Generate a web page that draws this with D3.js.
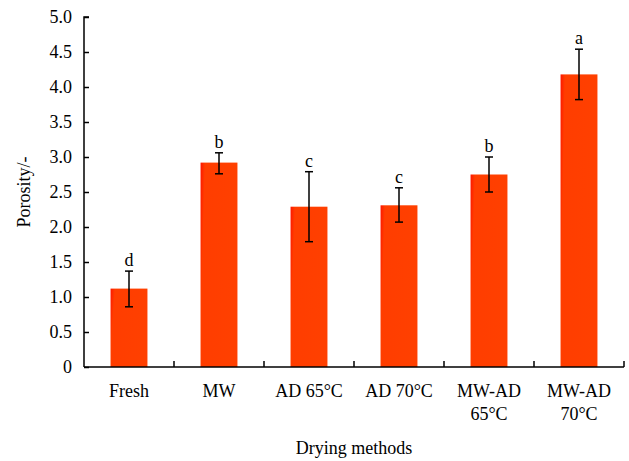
<!DOCTYPE html>
<html><head><meta charset="utf-8">
<script src="https://cdn.jsdelivr.net/npm/d3@7"></script>
<style>body{margin:0;background:#fff}svg{display:block}text{font-family:"Liberation Serif","Times New Roman",serif;fill:#000}</style>
</head><body><svg id="c" width="629" height="461"></svg>
<script>
const categories = [["Fresh"], ["MW"], ["AD 65°C"], ["AD 70°C"], ["MW-AD", "65°C"], ["MW-AD", "70°C"]];
const values = [1.12, 2.92, 2.29, 2.31, 2.75, 4.18];
const errUpper = [1.37, 3.06, 2.79, 2.56, 3.00, 4.54];
const errLower = [0.86, 2.76, 1.79, 2.07, 2.50, 3.82];
const letters = ["d", "b", "c", "c", "b", "a"];
const yTicks = [0, 0.5, 1.0, 1.5, 2.0, 2.5, 3.0, 3.5, 4.0, 4.5, 5.0];

const svg = d3.select("#c");
const m = {l: 84, r: 624, t: 17, b: 367};
const fs = 18;
const ids = categories.map((d, i) => i);
const x = d3.scaleBand().domain(ids).range([m.l, m.r]).padding(0);
const y = d3.scaleLinear().domain([0, 5]).range([m.b, m.t]);
const bw = x.bandwidth() * 0.41;

const defs = svg.append("defs");
const g = defs.append("linearGradient").attr("id", "bg").attr("x1", "0").attr("x2", "1").attr("y1", "0").attr("y2", "0.15");
g.append("stop").attr("offset", "0").attr("stop-color", "#ff1500");
g.append("stop").attr("offset", "0.12").attr("stop-color", "#ff3d00");
g.append("stop").attr("offset", "1").attr("stop-color", "#ff4000");

svg.selectAll("rect.bar").data(values).join("rect").attr("class", "bar")
  .attr("x", (d, i) => x(i) + x.bandwidth() / 2 - bw / 2)
  .attr("width", bw)
  .attr("y", d => y(d))
  .attr("height", d => y(0) - y(d))
  .attr("fill", "url(#bg)");

const eb = svg.append("g").attr("stroke", "#000").attr("stroke-width", 1.5);
ids.forEach(i => {
  const cx = x(i) + x.bandwidth() / 2;
  eb.append("line").attr("x1", cx).attr("x2", cx).attr("y1", y(errUpper[i])).attr("y2", y(errLower[i]));
  eb.append("line").attr("x1", cx - 4).attr("x2", cx + 4).attr("y1", y(errUpper[i])).attr("y2", y(errUpper[i]));
  eb.append("line").attr("x1", cx - 4).attr("x2", cx + 4).attr("y1", y(errLower[i])).attr("y2", y(errLower[i]));
  svg.append("text").attr("x", cx).attr("y", y(errUpper[i]) - 5).attr("text-anchor", "middle")
    .attr("font-size", fs).text(letters[i]);
});

// Y axis
const ya = svg.append("g").attr("transform", `translate(${m.l},0)`)
  .call(d3.axisRight(y).tickValues(yTicks).tickSize(5).tickFormat(d => d === 0 ? "0" : d3.format(".1f")(d)));
ya.select(".domain").attr("d", `M5,${m.t}H0V${m.b}`).attr("stroke", "#000").attr("stroke-width", 1.5);
ya.selectAll(".tick line").attr("stroke", "#000").attr("stroke-width", 1.5);
ya.selectAll(".tick text").attr("x", -12).attr("text-anchor", "end").attr("font-size", fs)
  .attr("font-family", '"Liberation Serif",serif').attr("fill", "#000");

// X axis
const xa = svg.append("g").attr("transform", `translate(0,${m.b})`);
xa.append("line").attr("x1", m.l).attr("x2", m.r).attr("stroke", "#000").attr("stroke-width", 1.5);
xa.selectAll("line.t").data(ids).join("line").attr("class", "t")
  .attr("x1", d => x(d) + x.bandwidth()).attr("x2", d => x(d) + x.bandwidth())
  .attr("y1", 0).attr("y2", -6).attr("stroke", "#000").attr("stroke-width", 1.5);
categories.forEach((lines, i) => {
  const t = svg.append("text").attr("text-anchor", "middle").attr("font-size", fs);
  lines.forEach((ln, k) => t.append("tspan").attr("x", x(i) + x.bandwidth() / 2).attr("y", 397 + k * 23).text(ln));
});

svg.append("text").attr("x", (m.l + m.r) / 2).attr("y", 454).attr("text-anchor", "middle").attr("font-size", fs).text("Drying methods");
svg.append("text").attr("transform", `translate(30,${(m.t + m.b) / 2}) rotate(-90)`).attr("text-anchor", "middle").attr("font-size", fs).text("Porosity/-");
</script></body></html>
